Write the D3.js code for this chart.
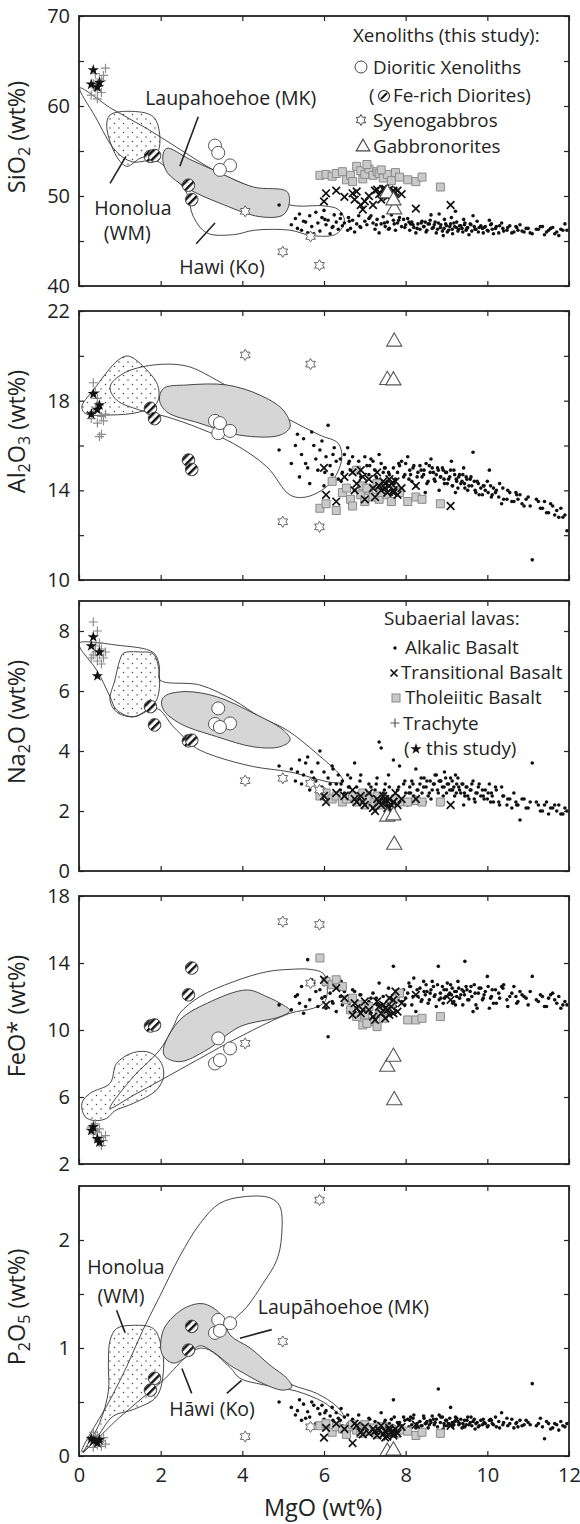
<!DOCTYPE html>
<html>
<head>
<meta charset="utf-8">
<script src="https://cdn.jsdelivr.net/npm/d3@7"></script>
<style>
  body { margin: 0; background: #fff; }
  svg { display: block; }
  text { font-family: 'Open Sans', sans-serif; fill: #222; }
</style>
</head>
<body>
<div id="chart"></div>
<script>
// ---- tick values ----
const mgoTicks = [0, 2, 4, 6, 8, 10, 12]
const sio2Ticks = [40, 45, 50, 55, 60, 65, 70]
const sio2Labels = [40, 50, 60, 70]
const al2o3Ticks = [10, 12, 14, 16, 18, 20, 22]
const al2o3Labels = [10, 14, 18, 22]
const na2oTicks = [0, 2, 4, 6, 8]
const na2oLabels = [0, 2, 4, 6, 8]
const feoTicks = [2, 6, 10, 14, 18]
const feoLabels = [2, 6, 10, 14, 18]
const p2o5Ticks = [0, 0.5, 1, 1.5, 2]
const p2o5Labels = [0, 1, 2]

// ---- alkalic basalts ----
const alkMgO = [
  5.2, 5.3, 5.4, 5.45, 5.5, 5.6, 5.65, 5.7, 5.8, 5.85,
  5.9, 5.95, 6.0, 6.05, 6.1, 6.15, 6.2, 6.25, 6.3, 6.35,
  6.4, 6.45, 6.5, 6.6, 6.65, 6.7, 6.8, 6.85, 6.9, 7.0,
  7.05, 7.1, 7.2, 7.25, 7.3, 7.4, 7.45, 7.5, 7.55, 7.6,
  7.7, 7.75, 7.8, 7.9, 7.95, 8.0, 8.1, 8.15, 8.2, 8.3,
  8.35, 8.4, 8.45, 8.5, 8.55, 8.6, 8.65, 8.7, 8.75, 8.8,
  8.85, 8.9, 8.95, 9.0, 9.05, 9.1, 9.15, 9.2, 9.25, 9.3,
  9.35, 9.4, 9.45, 9.5, 9.55, 9.6, 9.7, 9.75, 9.8, 9.9,
  9.95, 10.0, 10.1, 10.15, 10.2, 10.3, 10.4, 10.5, 10.6, 10.7,
  10.75, 10.8, 10.9, 11.0, 11.1, 11.2, 11.3, 11.4, 11.5, 11.6,
  11.7, 11.75, 11.8, 11.9, 11.95, 8.05, 8.25, 8.62, 8.82, 9.12,
  9.22, 9.42, 9.65, 8.48, 8.92, 7.35, 7.65, 6.75, 10.05, 10.35,
  4.9,
  6.62, 6.88, 7.12, 7.28, 7.48, 7.58, 7.72, 7.83, 7.98, 8.08,
  8.18, 8.28, 8.38, 8.44, 8.52, 8.58, 8.68, 8.72, 8.78, 8.86,
  8.94, 8.98, 9.02, 9.08, 9.14, 9.18, 9.24, 9.28, 9.32, 9.38,
  9.44, 9.48, 9.52, 9.58, 9.62, 9.68, 9.72, 9.78, 9.84, 9.88,
  9.92, 10.02, 10.08, 10.12, 10.22, 10.28, 10.38, 10.48, 10.55, 10.65,
  10.72, 10.85, 10.95, 11.05, 11.25, 11.35, 11.45, 11.55, 11.65, 11.85,
  5.35, 5.55, 5.75, 6.02, 6.22, 6.42, 6.58, 7.15, 7.85, 8.12
]
const alkSiO2 = [
  46.8, 47.5, 48.0, 46.2, 47.2, 45.9, 47.8, 46.6, 48.2, 47.0,
  46.1, 47.6, 48.4, 46.8, 47.3, 45.8, 46.5, 47.9, 47.1, 46.3,
  47.5, 46.7, 47.0, 47.6, 46.4, 47.3, 46.9, 47.8, 46.5, 47.2,
  46.8, 47.5, 47.0, 46.3, 47.4, 46.9, 47.7, 46.6, 47.1, 46.4,
  47.3, 46.2, 47.0, 46.6, 47.4, 46.8, 46.2, 47.1, 46.5, 46.9,
  46.3, 47.2, 46.6, 46.0, 46.9, 47.3, 46.4, 46.8, 45.9, 47.0,
  46.5, 46.1, 47.4, 46.7, 46.2, 46.9, 45.8, 46.6, 47.1, 46.3,
  46.7, 46.0, 47.0, 46.4, 45.7, 46.8, 46.3, 47.2, 46.5, 45.9,
  46.6, 46.2, 46.9, 45.8, 46.4, 46.7, 46.1, 46.5, 45.9, 46.6,
  46.2, 46.8, 46.0, 46.4, 45.8, 46.3, 46.6, 45.7, 46.2, 46.5,
  46.0, 45.6, 46.3, 46.9, 46.2, 47.5, 45.9, 47.9, 48.0, 47.6,
  48.3, 47.4, 47.8, 47.1, 45.6, 45.9, 47.9, 46.0, 47.3, 47.0,
  49.0,
  47.2, 46.6, 47.6, 46.8, 47.0, 46.3, 46.9, 47.3, 46.5, 47.1,
  46.8, 46.4, 47.0, 46.6, 46.2, 46.9, 46.5, 47.1, 46.3, 46.8,
  46.4, 46.9, 46.0, 46.6, 46.3, 47.0, 46.5, 46.1, 46.7, 46.4,
  46.8, 46.2, 46.5, 46.9, 46.1, 46.6, 46.3, 46.0, 46.7, 46.4,
  46.5, 46.1, 46.8, 46.3, 46.6, 45.9, 46.4, 46.2, 46.7, 46.0,
  46.5, 46.1, 46.4, 45.9, 46.3, 46.6, 46.0, 46.4, 45.8, 46.2,
  46.4, 47.1, 45.8, 47.4, 46.6, 48.0, 46.2, 47.8, 47.6, 46.9
]
const alkAl2O3 = [
  15.2, 16.0, 14.6, 15.6, 16.3, 15.0, 14.3, 16.6, 15.4, 14.9,
  15.8, 16.2, 14.2, 15.5, 16.9, 15.1, 14.7, 15.9, 15.3, 14.5,
  15.4, 14.8, 15.6, 15.2, 14.9, 15.5, 15.0, 15.3, 14.6, 15.5,
  15.1, 14.7, 15.3, 14.9, 14.5, 15.2, 14.8, 15.0, 14.4, 14.7,
  15.0, 14.5, 14.8, 15.3, 14.6, 15.2, 14.9, 14.4, 15.1, 14.8,
  15.1, 14.6, 14.9, 15.2, 14.4, 14.8, 15.0, 14.5, 14.7, 14.9,
  14.6, 15.0, 14.3, 14.8, 14.5, 14.9, 14.2, 14.7, 14.4, 14.6,
  14.3, 14.7, 14.1, 14.5, 14.2, 14.6, 14.0, 14.4, 13.8, 14.2,
  14.0, 14.4, 13.7, 14.1, 13.9, 14.3, 13.6, 14.0, 13.5, 13.9,
  13.6, 13.8, 13.3, 13.7, 10.9, 13.6, 13.2, 13.5, 13.0, 13.3,
  13.1, 12.8, 13.2, 12.9, 12.2, 15.5, 14.2, 15.4, 14.0, 15.3,
  13.9, 15.0, 15.7, 13.9, 14.9, 15.6, 13.8, 14.0, 14.9, 13.4,
  15.8,
  15.3, 14.9, 15.1, 14.6, 15.0, 14.8, 14.3, 15.2, 14.7, 14.5,
  15.0, 14.6, 14.9, 14.7, 14.3, 15.1, 14.8, 14.4, 15.0, 14.6,
  14.5, 14.8, 14.3, 14.6, 14.2, 14.9, 14.5, 14.1, 14.7, 14.4,
  14.3, 14.6, 14.0, 14.5, 14.2, 14.4, 13.9, 14.3, 14.1, 13.8,
  14.2, 13.9, 14.2, 13.8, 14.0, 13.7, 14.1, 13.6, 13.9, 13.5,
  13.8, 13.4, 13.6, 13.3, 13.5, 13.2, 13.0, 13.4, 12.9, 12.8,
  16.5, 15.2, 16.0, 14.8, 15.6, 14.4, 15.9, 15.4, 15.1, 14.7
]
const alkNa2O = [
  3.4, 3.0, 3.7, 2.9, 3.2, 3.8, 2.7, 3.3, 3.0, 3.6,
  4.0, 2.8, 3.3, 2.6, 3.1, 2.9, 3.5, 2.5, 2.9, 3.2,
  2.7, 3.0, 2.6, 2.8, 3.1, 2.5, 2.8, 2.4, 3.2, 2.6,
  2.5, 2.9, 2.3, 2.7, 3.1, 4.1, 2.6, 2.9, 2.2, 2.8,
  3.7, 2.5, 2.7, 2.3, 2.9, 2.6, 2.8, 3.0, 2.5, 2.7,
  2.9, 2.6, 3.1, 2.8, 2.5, 3.0, 2.7, 2.9, 3.2, 2.6,
  3.0, 2.8, 3.3, 2.6, 2.9, 3.1, 2.7, 2.5, 2.9, 2.8,
  2.6, 2.9, 2.5, 2.8, 2.4, 2.7, 2.3, 2.6, 2.9, 2.5,
  2.7, 2.4, 2.6, 2.3, 2.8, 2.2, 2.5, 2.4, 2.1, 2.3,
  2.2, 1.7, 2.4, 2.1, 3.6, 2.3, 2.0, 2.2, 1.9, 2.1,
  2.0, 2.2, 1.9, 2.1, 2.0, 2.2, 3.4, 2.4, 3.0, 2.7,
  3.2, 2.2, 3.0, 2.3, 2.5, 4.3, 2.1, 3.6, 2.9, 2.8,
  3.5,
  2.8, 3.0, 2.6, 2.9, 2.7, 3.2, 2.5, 2.8, 3.0, 2.6,
  2.9, 2.7, 3.1, 2.8, 3.0, 2.6, 2.9, 3.2, 2.7, 3.0,
  2.8, 3.1, 2.9, 2.7, 3.0, 2.8, 2.6, 3.1, 2.7, 2.9,
  2.6, 2.8, 2.5, 2.7, 2.9, 2.4, 2.6, 2.8, 2.5, 2.7,
  2.4, 2.6, 2.3, 2.5, 2.7, 2.3, 2.5, 2.2, 2.4, 2.6,
  2.2, 2.4, 2.1, 2.3, 2.2, 2.0, 2.3, 2.1, 2.2, 1.9,
  3.3, 3.6, 3.1, 2.7, 3.4, 2.9, 3.2, 2.8, 3.5, 2.6
]
const alkFeO = [
  11.2, 12.0, 11.6, 12.6, 11.0, 14.2, 11.8, 13.0, 12.3, 11.4,
  12.4, 11.9, 12.7, 11.3, 9.6, 12.2, 11.7, 12.9, 11.1, 12.5,
  12.0, 11.5, 12.3, 11.8, 11.2, 12.4, 10.9, 11.6, 12.1, 11.4,
  11.0, 11.7, 12.2, 10.8, 11.5, 11.2, 12.0, 10.6, 11.3, 11.8,
  13.8, 11.4, 12.1, 11.7, 12.4, 11.9, 12.6, 11.5, 13.1, 12.0,
  12.5, 11.8, 12.3, 12.7, 11.6, 12.2, 12.9, 12.0, 11.4, 13.8,
  12.2, 12.6, 11.9, 12.4, 12.1, 12.7, 11.6, 12.3, 12.0, 12.5,
  12.1, 11.5, 14.1, 12.4, 11.8, 12.6, 12.2, 11.3, 12.5, 11.9,
  12.3, 13.2, 12.0, 11.6, 12.4, 11.9, 12.7, 11.4, 12.2, 12.0,
  11.7, 12.3, 12.0, 11.5, 13.2, 11.8, 12.1, 11.4, 11.9, 12.2,
  11.6, 12.0, 11.3, 11.7, 11.5, 12.2, 11.1, 12.4, 11.8, 12.1,
  11.5, 12.3, 11.1, 12.1, 11.6, 12.8, 11.0, 12.3, 11.3, 12.6,
  11.5,
  11.6, 12.1, 11.0, 11.9, 11.3, 12.5, 11.7, 12.2, 11.5, 12.8,
  12.0, 12.4, 11.7, 12.9, 12.3, 11.8, 12.6, 12.1, 12.7, 11.9,
  12.4, 12.0, 12.8, 12.2, 12.5, 11.7, 12.3, 12.9, 11.9, 12.4,
  12.1, 12.6, 11.8, 12.3, 12.0, 12.7, 11.5, 12.2, 12.5, 11.8,
  12.1, 12.6, 11.9, 12.4, 11.6, 12.2, 12.5, 11.8, 12.0, 12.6,
  11.6, 12.1, 11.9, 12.3, 11.7, 12.0, 11.4, 12.1, 11.8, 11.5,
  12.1, 11.4, 12.8, 12.0, 11.6, 12.9, 11.3, 11.9, 12.2, 12.6
]
const alkP2O5 = [
  0.45, 0.38, 0.52, 0.33, 0.48, 0.41, 0.36, 0.50, 0.30, 0.44,
  0.39, 0.47, 0.34, 0.42, 0.29, 0.37, 0.45, 0.31, 0.40, 0.35,
  0.33, 0.28, 0.36, 0.30, 0.25, 0.34, 0.27, 0.38, 0.24, 0.31,
  0.29, 0.35, 0.26, 0.32, 0.23, 0.40, 0.27, 0.33, 0.22, 0.30,
  0.52, 0.25, 0.31, 0.28, 0.36, 0.24, 0.33, 0.29, 0.38, 0.27,
  0.32, 0.28, 0.35, 0.30, 0.26, 0.33, 0.37, 0.29, 0.34, 0.62,
  0.31, 0.36, 0.28, 0.33, 0.30, 0.45, 0.27, 0.32, 0.35, 0.29,
  0.34, 0.30, 0.27, 0.33, 0.29, 0.36, 0.25, 0.31, 0.28, 0.34,
  0.30, 0.27, 0.33, 0.29, 0.36, 0.26, 0.31, 0.28, 0.34, 0.30,
  0.27, 0.33, 0.29, 0.31, 0.67, 0.28, 0.35, 0.16, 0.30, 0.26,
  0.29, 0.24, 0.32, 0.27, 0.30, 0.34, 0.26, 0.31, 0.38, 0.29,
  0.36, 0.27, 0.32, 0.30, 0.25, 0.21, 0.34, 0.28, 0.33, 0.40,
  0.50,
  0.30, 0.26, 0.34, 0.28, 0.31, 0.24, 0.36, 0.29, 0.33, 0.27,
  0.35, 0.30, 0.28, 0.37, 0.32, 0.29, 0.34, 0.31, 0.27, 0.36,
  0.30, 0.33, 0.28, 0.35, 0.31, 0.29, 0.34, 0.32, 0.30, 0.26,
  0.33, 0.29, 0.36, 0.31, 0.28, 0.34, 0.30, 0.27, 0.33, 0.29,
  0.31, 0.28, 0.34, 0.30, 0.27, 0.32, 0.29, 0.35, 0.30, 0.26,
  0.31, 0.28, 0.33, 0.29, 0.30, 0.27, 0.32, 0.25, 0.30, 0.28,
  0.42, 0.35, 0.47, 0.40, 0.33, 0.44, 0.38, 0.26, 0.31, 0.36
]

// ---- transitional basalts ----
const trMgO = [6.0, 6.05, 6.3, 6.5, 6.7, 6.75, 6.8, 6.9, 7.0, 7.1, 7.2, 7.3, 7.35, 7.4, 7.45,
  7.5, 7.55, 7.6, 7.65, 7.7, 7.75, 7.8, 7.9, 8.25, 9.1, 6.95, 7.25, 7.5, 7.6, 7.7]
const trSiO2 = [49.4, 50.3, 50.6, 49.9, 50.3, 49.6, 50.5, 49.0, 49.4, 50.0, 49.0, 50.7, 50.2, 49.6, 50.8,
  50.5, 49.9, 50.7, 50.3, 50.6, 49.8, 50.6, 50.2, 48.6, 49.0, 48.5, 50.6, 50.8, 50.1, 50.5]
const trAl2O3 = [15.0, 13.8, 13.5, 14.6, 14.8, 14.0, 14.3, 14.9, 13.6, 14.5, 14.1, 14.8, 14.2, 14.0, 14.4,
  14.1, 13.9, 14.2, 14.3, 14.0, 14.4, 13.8, 14.1, 14.2, 13.3, 14.6, 13.7, 14.3, 14.5, 13.9]
const trNa2O = [2.5, 2.3, 2.6, 2.5, 2.7, 2.4, 2.3, 2.5, 2.2, 2.6, 2.1, 2.4, 2.3, 2.2, 2.5,
  2.3, 2.1, 2.4, 2.2, 2.3, 2.6, 2.2, 2.4, 2.4, 2.2, 2.3, 2.0, 2.4, 2.1, 2.3]
const trFeO = [13.0, 11.5, 12.5, 11.9, 10.9, 11.6, 11.3, 11.0, 11.7, 11.2, 10.8, 11.7, 11.4, 11.0, 11.5,
  10.7, 11.2, 10.9, 11.4, 11.8, 12.3, 11.1, 11.6, 12.1, 11.8, 11.2, 10.6, 11.3, 11.9, 11.0]
const trP2O5 = [0.17, 0.26, 0.30, 0.25, 0.12, 0.30, 0.28, 0.22, 0.27, 0.21, 0.25, 0.19, 0.24, 0.28, 0.20,
  0.23, 0.18, 0.26, 0.22, 0.19, 0.25, 0.21, 0.27, 0.29, 0.28, 0.20, 0.23, 0.17, 0.24, 0.21]

// ---- tholeiitic basalts ----
const thMgO = [5.9, 6.05, 6.2, 6.3, 6.45, 6.55, 6.65, 6.8, 6.9, 6.95, 7.0, 7.1, 7.2, 7.3,
  7.35, 7.45, 7.55, 7.65, 7.75, 7.85, 8.05, 8.25, 8.4, 8.85, 6.7, 7.05, 7.4]
const thSiO2 = [52.3, 52.4, 52.2, 52.5, 52.7, 51.8, 52.3, 53.3, 52.8, 51.9, 52.4, 53.0, 52.3, 52.7,
  52.5, 52.0, 52.4, 51.7, 52.6, 52.1, 51.8, 51.6, 52.1, 51.0, 51.6, 53.5, 52.9]
const thAl2O3 = [13.2, 13.4, 14.4, 13.1, 13.9, 14.1, 13.6, 14.9, 13.8, 14.2, 13.5, 14.0, 13.7, 14.3,
  13.6, 14.1, 13.8, 13.5, 14.0, 13.9, 13.5, 13.7, 13.6, 13.4, 13.3, 14.1, 13.9]
const thNa2O = [2.5, 2.6, 2.4, 2.5, 2.3, 2.4, 2.5, 2.3, 2.4, 2.6, 2.2, 2.4, 2.3, 2.5,
  2.2, 2.4, 2.3, 2.2, 2.4, 2.3, 2.3, 2.35, 2.3, 2.3, 2.5, 2.4, 2.3]
const thFeO = [14.3, 12.9, 12.7, 13.0, 12.6, 11.8, 11.2, 10.8, 11.5, 10.3, 10.9, 11.4, 10.5, 10.2,
  11.0, 10.7, 11.3, 11.6, 11.9, 12.2, 10.6, 10.6, 10.7, 10.8, 11.9, 10.4, 11.1]
const thP2O5 = [0.28, 0.30, 0.22, 0.27, 0.25, 0.20, 0.27, 0.24, 0.21, 0.25, 0.29, 0.23, 0.26, 0.20,
  0.24, 0.27, 0.22, 0.25, 0.21, 0.24, 0.23, 0.19, 0.22, 0.21, 0.29, 0.25, 0.27]

// ---- trachytes (literature) ----
const tcMgO = [0.3, 0.35, 0.4, 0.4, 0.45, 0.5, 0.5, 0.55, 0.55, 0.6, 0.65, 0.45, 0.35]
const tcSiO2 = [61.2, 62.5, 63.6, 62.0, 61.8, 63.0, 62.3, 61.5, 62.8, 63.4, 64.2, 60.8, 62.2]
const tcAl2O3 = [17.2, 18.8, 18.4, 17.6, 17.0, 17.8, 16.4, 17.3, 16.5, 17.1, 17.4, 18.1, 17.5]
const tcNa2O = [7.1, 8.3, 7.5, 7.3, 7.0, 7.6, 7.2, 6.9, 7.4, 7.1, 7.3, 8.0, 7.2]
const tcFeO = [4.2, 3.8, 4.4, 4.0, 3.5, 3.3, 4.1, 3.6, 3.1, 3.4, 3.7, 3.9, 4.3]
const tcP2O5 = [0.15, 0.22, 0.18, 0.12, 0.10, 0.16, 0.13, 0.09, 0.14, 0.17, 0.11, 0.19, 0.08]

// ---- trachytes (this study) ----
const tsMgO = [0.35, 0.3, 0.45, 0.5]
const tsSiO2 = [64.0, 62.4, 62.1, 62.6]
const tsAl2O3 = [18.3, 17.4, 17.6, 17.8]
const tsNa2O = [7.8, 7.5, 6.5, 7.3]
const tsFeO = [4.2, 4.0, 3.5, 3.3]
const tsP2O5 = [0.14, 0.16, 0.12, 0.15]

// ---- xenoliths ----
const dioMgO = [3.33, 3.41, 3.7, 3.45]
const dioSiO2 = [55.6, 54.8, 53.4, 52.9]
const dioAl2O3 = [17.1, 16.55, 16.65, 17.0]
const dioNa2O = [4.9, 5.42, 4.92, 4.8]
const dioFeO = [8.0, 9.5, 8.9, 8.2]
const dioP2O5 = [1.14, 1.26, 1.23, 1.16]

const feMgO = [1.75, 1.85, 2.68, 2.76]
const feSiO2 = [54.4, 54.5, 51.2, 49.6]
const feAl2O3 = [17.66, 17.2, 15.35, 14.93]
const feNa2O = [5.48, 4.87, 4.34, 4.36]
const feFeO = [10.24, 10.3, 12.1, 13.7]
const feP2O5 = [0.61, 0.72, 0.98, 1.2]

const syMgO = [4.07, 4.99, 5.67, 5.89]
const sySiO2 = [48.3, 43.8, 45.5, 42.3]
const syAl2O3 = [20.04, 12.6, 19.63, 12.37]
const syNa2O = [3.01, 3.09, 2.92, 2.7]
const syFeO = [9.2, 16.47, 12.8, 16.3]
const syP2O5 = [0.18, 1.06, 0.27, 2.37]

const gbMgO = [7.72, 7.55, 7.7]
const gbSiO2 = [48.5, 50.3, 49.5]
const gbAl2O3 = [20.63, 18.92, 18.9]
const gbNa2O = [0.87, 1.81, 1.85]
const gbFeO = [5.8, 7.8, 8.4]
const gbP2O5 = [0.03, 0.04, 0.05]

// ---- field envelopes [MgO, oxide] ----
const hawiSiO2 = [[0.02, 62.0], [0.8, 59.7], [1.66, 57.5], [2.5, 55.1], [3.29, 52.9], [4.2, 51.0], [5.17, 49.0],
  [6.0, 48.9], [6.35, 48.5], [6.5, 47.3], [6.31, 45.8], [5.7, 45.6], [5.17, 46.2], [4.3, 46.2], [3.78, 45.7],
  [3.13, 45.9], [2.8, 47.7], [2.64, 50.3], [2.39, 51.8], [1.9, 53.9], [1.3, 53.8], [0.9, 55.0], [0.4, 58.8]]
const honoluaSiO2 = [[0.76, 59.0], [1.32, 59.4], [1.82, 58.8], [1.98, 56.6], [1.9, 54.7], [1.5, 54.2],
  [1.17, 53.3], [0.92, 54.4], [0.68, 57.7]]
const laupSiO2 = [[2.15, 55.3], [2.7, 54.1], [3.29, 52.9], [4.27, 51.0], [5.09, 50.5], [5.15, 49.2], [5.0, 47.9],
  [4.43, 47.7], [3.45, 49.2], [2.64, 50.9], [2.15, 52.7], [2.05, 54.4]]

const hawiAl2O3 = [[0.76, 18.62], [1.09, 19.22], [1.82, 19.59], [2.64, 19.54], [3.37, 18.92], [4.19, 18.03],
  [5.17, 17.13], [5.9, 16.46], [6.35, 16.09], [6.43, 15.35], [6.15, 14.31], [5.58, 13.71], [5.17, 13.79],
  [4.6, 15.05], [3.78, 16.09], [2.96, 16.76], [2.15, 17.28], [1.49, 17.58], [0.92, 18.03]]
const honoluaAl2O3 = [[1.21, 19.99], [1.66, 19.37], [1.94, 18.62], [1.9, 17.88], [1.49, 17.5], [0.76, 17.36],
  [0.15, 17.43], [0.07, 17.73], [0.35, 18.47], [0.96, 19.81]]
const laupAl2O3 = [[2.07, 18.55], [2.64, 18.7], [3.62, 18.7], [4.43, 18.25], [5.0, 17.58], [5.17, 16.84],
  [4.92, 16.46], [3.94, 16.46], [2.96, 16.99], [2.15, 17.5], [1.97, 18.03]]

const hawiNa2O = [[0.0, 7.6], [0.92, 7.53], [1.82, 7.28], [1.97, 6.81], [1.98, 6.37], [2.96, 6.2], [3.78, 5.7],
  [4.43, 5.14], [5.09, 4.7], [5.82, 3.92], [6.39, 3.2], [6.47, 2.97], [6.2, 2.95], [5.17, 3.3], [4.27, 3.48],
  [3.37, 3.81], [2.88, 4.09], [2.64, 4.37], [2.31, 4.81], [1.9, 5.42], [1.33, 5.14], [0.92, 5.37], [0.76, 5.81],
  [0.43, 6.7], [0.03, 7.43]]
const honoluaNa2O = [[1.09, 7.26], [1.5, 7.3], [1.82, 7.23], [1.97, 6.5], [1.9, 5.7], [1.66, 5.37], [1.33, 5.14],
  [0.92, 5.3], [0.76, 5.7], [0.88, 6.37], [1.0, 7.03]]
const laupNa2O = [[2.15, 5.87], [2.64, 5.98], [3.37, 5.81], [4.27, 5.26], [5.0, 4.7], [5.17, 4.37], [4.92, 4.14],
  [4.27, 4.14], [3.37, 4.48], [2.47, 4.92], [2.07, 5.37], [2.03, 5.7]]

const hawiFeO = [[0.76, 5.33], [1.33, 7.21], [1.98, 8.81], [2.31, 10.2], [2.47, 11.0], [2.96, 11.99], [3.78, 12.88],
  [4.6, 13.48], [5.17, 13.62], [5.66, 13.62], [5.98, 13.38], [6.08, 12.58], [6.02, 11.69], [5.74, 11.3],
  [5.17, 11.0], [3.94, 9.6], [2.96, 8.3], [1.98, 6.97], [1.33, 6.1]]
const honoluaFeO = [[0.07, 5.62], [0.27, 6.22], [0.76, 6.82], [0.92, 8.01], [1.33, 8.65], [1.74, 8.65], [2.02, 8.01],
  [2.07, 7.21], [1.9, 6.42], [1.33, 5.62], [0.88, 5.18], [0.68, 4.73], [0.39, 4.59], [0.15, 4.82]]
const laupFeO = [[2.07, 8.91], [2.47, 10.6], [3.13, 11.59], [4.11, 12.39], [4.6, 11.99], [5.0, 11.49], [5.17, 11.15],
  [4.92, 10.79], [3.94, 10.2], [3.13, 8.81], [2.47, 8.11], [2.11, 8.41]]

const hawiP2O5 = [[0.07, 0.04], [0.76, 0.52], [1.17, 0.83], [1.57, 1.17], [1.98, 1.48], [2.47, 1.85], [2.96, 2.15],
  [3.45, 2.34], [4.02, 2.4], [4.68, 2.39], [4.92, 2.31], [4.96, 2.03], [4.84, 1.81], [4.51, 1.6], [4.11, 1.38],
  [3.75, 1.24], [3.6, 1.1], [4.3, 0.85], [5.21, 0.66], [5.82, 0.58], [6.31, 0.46], [6.5, 0.36], [6.3, 0.41],
  [5.98, 0.5], [5.33, 0.6], [4.51, 0.66], [3.94, 0.72], [3.7, 0.82], [3.0, 1.0], [2.0, 0.68], [1.0, 0.36]]
const honoluaP2O5 = [[0.92, 1.18], [1.33, 1.21], [1.82, 1.18], [2.02, 1.01], [2.07, 0.8], [1.9, 0.55], [1.33, 0.43],
  [0.84, 0.37], [0.45, 0.18], [0.1, 0.03], [0.5, 0.3], [0.72, 0.6], [0.72, 0.85], [0.76, 1.07]]
const laupP2O5 = [[2.0, 1.0], [2.07, 1.17], [2.31, 1.29], [2.64, 1.38], [3.04, 1.41], [3.45, 1.32], [3.7, 1.12],
  [4.19, 1.0], [4.68, 0.84], [5.09, 0.72], [5.21, 0.64], [5.0, 0.61], [4.51, 0.67], [4.02, 0.77], [3.7, 0.84],
  [3.3, 0.96], [2.96, 1.02], [2.64, 0.92], [2.31, 0.86], [2.07, 0.92]]

// ---- layout ----
const left = 79, right = 569
const x = d3.scaleLinear().domain([0, 12]).range([left, right])

const panels = [
  { top: 16, bottom: 286, domain: [40, 70], ticks: sio2Ticks, labels: sio2Labels, title: ['SiO', '2', ' (wt%)'],
    alk: alkSiO2, tr: trSiO2, th: thSiO2, tc: tcSiO2, ts: tsSiO2, dio: dioSiO2, fe: feSiO2, sy: sySiO2, gb: gbSiO2,
    hawi: hawiSiO2, hon: honoluaSiO2, lau: laupSiO2 },
  { top: 311, bottom: 580, domain: [10, 22], ticks: al2o3Ticks, labels: al2o3Labels, title: ['Al', '2', 'O', '3', ' (wt%)'],
    alk: alkAl2O3, tr: trAl2O3, th: thAl2O3, tc: tcAl2O3, ts: tsAl2O3, dio: dioAl2O3, fe: feAl2O3, sy: syAl2O3, gb: gbAl2O3,
    hawi: hawiAl2O3, hon: honoluaAl2O3, lau: laupAl2O3 },
  { top: 601, bottom: 871, domain: [0, 9], ticks: na2oTicks, labels: na2oLabels, title: ['Na', '2', 'O (wt%)'],
    alk: alkNa2O, tr: trNa2O, th: thNa2O, tc: tcNa2O, ts: tsNa2O, dio: dioNa2O, fe: feNa2O, sy: syNa2O, gb: gbNa2O,
    hawi: hawiNa2O, hon: honoluaNa2O, lau: laupNa2O },
  { top: 896, bottom: 1164, domain: [2, 18], ticks: feoTicks, labels: feoLabels, title: ['FeO* (wt%)'],
    alk: alkFeO, tr: trFeO, th: thFeO, tc: tcFeO, ts: tsFeO, dio: dioFeO, fe: feFeO, sy: syFeO, gb: gbFeO,
    hawi: hawiFeO, hon: honoluaFeO, lau: laupFeO },
  { top: 1186, bottom: 1456, domain: [0, 2.5], ticks: p2o5Ticks, labels: p2o5Labels, title: ['P', '2', 'O', '5', ' (wt%)'],
    alk: alkP2O5, tr: trP2O5, th: thP2O5, tc: tcP2O5, ts: tsP2O5, dio: dioP2O5, fe: feP2O5, sy: syP2O5, gb: gbP2O5,
    hawi: hawiP2O5, hon: honoluaP2O5, lau: laupP2O5 }
]

const ink = '#222'
const svg = d3.select('#chart').append('svg').attr('width', 580).attr('height', 1524)
const defs = svg.append('defs')

// dotted fill for Honolua
const dots = defs.append('pattern').attr('id', 'dots').attr('patternUnits', 'userSpaceOnUse')
  .attr('width', 9).attr('height', 9)
dots.append('circle').attr('cx', 2).attr('cy', 2).attr('r', 0.75).attr('fill', '#444')
dots.append('circle').attr('cx', 6.5).attr('cy', 6.5).attr('r', 0.75).attr('fill', '#444')

// stripes for Fe-rich diorites
const hatch = defs.append('pattern').attr('id', 'hatch').attr('patternUnits', 'userSpaceOnUse')
  .attr('width', 5.5).attr('height', 5.5).attr('patternTransform', 'rotate(45)')
hatch.append('rect').attr('width', 5.5).attr('height', 5.5).attr('fill', '#fff')
hatch.append('rect').attr('width', 2.4).attr('height', 5.5).attr('fill', '#111')

function hexagram(r) {
  const pts = d3.range(12).map(k => {
    const a = -Math.PI / 2 + k * Math.PI / 6
    const rr = k % 2 ? r / Math.sqrt(3) : r
    return [rr * Math.cos(a), rr * Math.sin(a)]
  })
  return 'M' + pts.join('L') + 'Z'
}
const crossPath = s => `M${-s},${-s}L${s},${s}M${-s},${s}L${s},${-s}`
const plusPath = s => `M${-s},0L${s},0M0,${-s}L0,${s}`
const starPath = d3.symbol(d3.symbolStar, 40)()
const squarePath = d3.symbol(d3.symbolSquare, 64)()
const triPath = d3.symbol(d3.symbolTriangle, 100)()

const marks = {
  alk: sel => sel.append('circle').attr('r', 1.8).attr('fill', '#111'),
  th: sel => sel.append('path').attr('d', squarePath).attr('fill', '#c9c9c9').attr('stroke', '#8a8a8a').attr('stroke-width', 1),
  tr: sel => sel.append('path').attr('d', crossPath(3.8)).attr('stroke', '#111').attr('stroke-width', 1.7).attr('fill', 'none'),
  tc: sel => sel.append('path').attr('d', plusPath(4.5)).attr('stroke', '#8c8c8c').attr('stroke-width', 1.2).attr('fill', 'none'),
  ts: sel => sel.append('path').attr('d', starPath).attr('fill', '#111'),
  sy: sel => sel.append('path').attr('d', hexagram(5.6)).attr('fill', '#fff').attr('stroke', '#666').attr('stroke-width', 1),
  gb: sel => sel.append('path').attr('d', triPath).attr('fill', '#fff').attr('stroke', '#555').attr('stroke-width', 1.1),
  dio: sel => sel.append('circle').attr('r', 6.5).attr('fill', '#fff').attr('stroke', '#555').attr('stroke-width', 1),
  fe: sel => sel.append('circle').attr('r', 6.3).attr('fill', 'url(#hatch)').attr('stroke', '#444').attr('stroke-width', 1)
}
const mgoOf = { alk: alkMgO, th: thMgO, tr: trMgO, tc: tcMgO, ts: tsMgO, sy: syMgO, gb: gbMgO, dio: dioMgO, fe: feMgO }
const drawOrder = ['alk', 'th', 'tr', 'tc', 'ts', 'sy', 'gb', 'dio', 'fe']

panels.forEach((p, i) => {
  const y = d3.scaleLinear().domain(p.domain).range([p.bottom, p.top])
  const g = svg.append('g')
  defs.append('clipPath').attr('id', 'clip' + i).append('rect')
    .attr('x', left).attr('y', p.top).attr('width', right - left).attr('height', p.bottom - p.top)
  const plot = g.append('g').attr('clip-path', `url(#clip${i})`)

  const shape = d3.line().x(d => x(d[0])).y(d => y(d[1])).curve(d3.curveCatmullRomClosed.alpha(0.5))
  plot.append('path').attr('d', shape(p.hon)).attr('fill', 'url(#dots)').attr('stroke', '#333').attr('stroke-width', 0.9)
  plot.append('path').attr('d', shape(p.hawi)).attr('fill', 'none').attr('stroke', '#333').attr('stroke-width', 0.9)
  plot.append('path').attr('d', shape(p.lau)).attr('fill', '#d6d6d6').attr('stroke', '#333').attr('stroke-width', 0.9)

  drawOrder.forEach(k => {
    const pts = mgoOf[k].map((m, j) => [m, p[k][j]])
    const sel = plot.append('g').selectAll('g').data(pts).join('g')
      .attr('transform', d => `translate(${x(d[0])},${y(d[1])})`)
    marks[k](sel)
  })

  // axes: inward ticks on all four sides
  const tickStyle = a => a.call(s => s.select('.domain').remove())
    .call(s => s.selectAll('line').attr('stroke', ink).attr('stroke-width', 1.2))
    .call(s => s.selectAll('text').attr('fill', ink))
    .attr('font-size', 20).attr('font-family', "'Open Sans', sans-serif")
  g.append('g').attr('transform', `translate(${left},0)`)
    .call(d3.axisLeft(y).tickValues(p.ticks).tickSize(-5).tickPadding(9)
      .tickFormat(d => p.labels.includes(d) ? d : ''))
    .call(tickStyle)
  g.append('g').attr('transform', `translate(${right},0)`)
    .call(d3.axisRight(y).tickValues(p.ticks).tickSize(-5).tickFormat(''))
    .call(tickStyle)
  g.append('g').attr('transform', `translate(0,${p.top})`)
    .call(d3.axisTop(x).tickValues(mgoTicks).tickSize(-5).tickFormat(''))
    .call(tickStyle)
  g.append('g').attr('transform', `translate(0,${p.bottom})`)
    .call(d3.axisBottom(x).tickValues(mgoTicks).tickSize(-5).tickPadding(12)
      .tickFormat(i === panels.length - 1 ? d3.format('d') : ''))
    .call(tickStyle)

  g.append('rect').attr('x', left).attr('y', p.top).attr('width', right - left).attr('height', p.bottom - p.top)
    .attr('fill', 'none').attr('stroke', ink).attr('stroke-width', 1.8)

  // y title with subscripts
  const cy = (p.top + p.bottom) / 2 - 14
  const t = g.append('text').attr('transform', `translate(25,${cy}) rotate(-90)`)
    .attr('text-anchor', 'middle').attr('dy', '0.35em').attr('font-size', 23.5)
  let sub = false
  p.title.forEach((part, k) => {
    const isSub = p.title.length > 1 && k % 2 === 1 && /^\d$/.test(part)
    t.append('tspan').text(part)
      .attr('font-size', isSub ? 16 : null)
      .attr('dy', isSub ? 5 : (sub ? -5 : 0))
    sub = isSub
  })
  p.y = y
})

// x title
svg.append('text').attr('x', 323).attr('y', 1508).attr('dy', '0.35em').attr('text-anchor', 'middle')
  .attr('font-size', 23.5).text('MgO (wt%)')

// ---- field labels ----
function label(p, txt, mx, vy, anchor) {
  svg.append('text').attr('x', x(mx)).attr('y', p.y(vy)).attr('dy', '0.35em')
    .attr('text-anchor', anchor || 'middle').attr('font-size', 19.5).text(txt)
}
function leader(p, a, b) {
  svg.append('line').attr('x1', x(a[0])).attr('y1', p.y(a[1])).attr('x2', x(b[0])).attr('y2', p.y(b[1]))
    .attr('stroke', ink).attr('stroke-width', 1.6)
}
const p1 = panels[0], p5 = panels[4]
label(p1, 'Laupahoehoe (MK)', 1.62, 60.9, 'start')
leader(p1, [2.92, 58.8], [2.47, 53.3])
label(p1, 'Honolua', 1.32, 48.7)
label(p1, '(WM)', 1.18, 45.9)
leader(p1, [0.76, 51.4], [1.15, 54.4])
label(p1, 'Hawi (Ko)', 3.5, 42.1)
leader(p1, [2.87, 44.7], [3.33, 47.0])

label(p5, 'Honolua', 1.15, 1.75)
label(p5, '(WM)', 1.03, 1.48)
leader(p5, [0.92, 1.35], [1.13, 1.14])
label(p5, 'Laupāhoehoe (MK)', 4.38, 1.38, 'start')
leader(p5, [4.72, 1.17], [3.94, 1.09])
label(p5, 'Hāwi (Ko)', 3.26, 0.43)
leader(p5, [2.76, 0.58], [2.52, 0.81])
leader(p5, [3.62, 0.58], [3.98, 0.70])

// ---- legends ----
const lf = 18.8
function ltext(xp, yp, txt) {
  svg.append('text').attr('x', xp).attr('y', yp).attr('dy', '0.35em').attr('font-size', lf).text(txt)
}
ltext(353, 35, 'Xenoliths (this study):')
svg.append('circle').attr('cx', 361).attr('cy', 67).attr('r', 6).attr('fill', '#fff').attr('stroke', '#444')
ltext(373, 67, 'Dioritic Xenoliths')
ltext(369, 95, '(')
svg.append('circle').attr('cx', 384).attr('cy', 96).attr('r', 5.5).attr('fill', '#fff').attr('stroke', '#222').attr('stroke-width', 1.1)
svg.append('line').attr('x1', 381).attr('y1', 99).attr('x2', 387).attr('y2', 93).attr('stroke', '#111').attr('stroke-width', 2.2)
ltext(393, 95, 'Fe-rich Diorites)')
svg.append('path').attr('transform', 'translate(361,120)').attr('d', hexagram(5.5))
  .attr('fill', '#fff').attr('stroke', '#444').attr('stroke-width', 1)
ltext(373, 120, 'Syenogabbros')
svg.append('path').attr('transform', 'translate(363,147)').attr('d', d3.symbol(d3.symbolTriangle, 80)())
  .attr('fill', '#fff').attr('stroke', '#444').attr('stroke-width', 1.1)
ltext(373, 146, 'Gabbronorites')

ltext(384, 618, 'Subaerial lavas:')
svg.append('circle').attr('cx', 395).attr('cy', 648).attr('r', 1.8).attr('fill', '#111')
ltext(405, 647, 'Alkalic Basalt')
svg.append('path').attr('transform', 'translate(394,673)').attr('d', crossPath(3.5))
  .attr('stroke', '#111').attr('stroke-width', 1.7)
ltext(401, 672, 'Transitional Basalt')
svg.append('rect').attr('x', 392).attr('y', 694).attr('width', 8).attr('height', 8)
  .attr('fill', '#c9c9c9').attr('stroke', '#8a8a8a')
ltext(405, 697, 'Tholeiitic Basalt')
svg.append('path').attr('transform', 'translate(395,723)').attr('d', plusPath(4.5))
  .attr('stroke', '#555').attr('stroke-width', 1.2)
ltext(403, 723, 'Trachyte')
ltext(404, 748, '(')
svg.append('path').attr('transform', 'translate(416,749)').attr('d', starPath).attr('fill', '#111')
ltext(426, 748, 'this study)')
</script>
</body>
</html>
